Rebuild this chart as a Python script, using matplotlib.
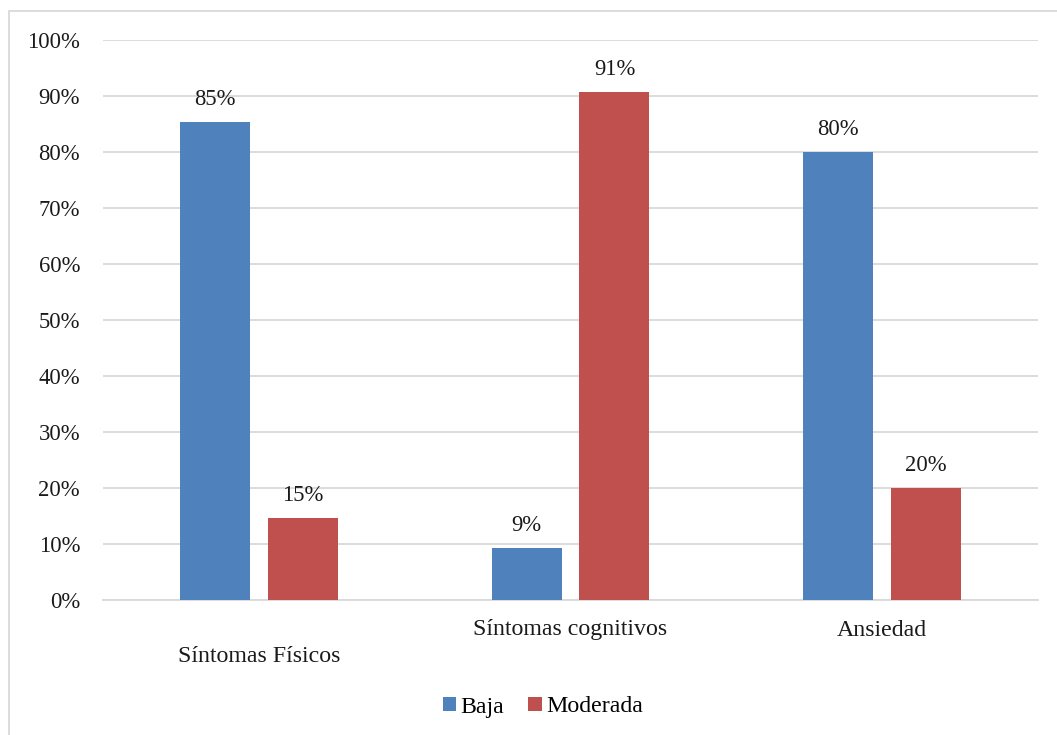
import matplotlib.pyplot as plt
from matplotlib.patches import Rectangle
import numpy as np

plt.rcParams['font.family'] = ['Liberation Serif', 'DejaVu Serif']

categorias = ['Síntomas Físicos', 'Síntomas cognitivos', 'Ansiedad']
baja = [85.3, 9.3, 80.0]
moderada = [14.7, 90.7, 20.0]
series = ['Baja', 'Moderada']

azul = '#4F81BD'
rojo = '#C0504D'
gris = '#D9D9D9'

W, H = 1057, 735
fig = plt.figure(figsize=(W / 100, H / 100), dpi=100)
ax = fig.add_axes([103 / W, 135 / H, (1038 - 103) / W, 560 / H])

x = np.arange(len(categorias))
ancho = 0.2246
off = 0.141
b1 = ax.bar(x - off, baja, ancho, color=azul, label=series[0], zorder=3)
b2 = ax.bar(x + off, moderada, ancho, color=rojo, label=series[1], zorder=3)

for barras, vals in [(b1, baja), (b2, moderada)]:
    for b, v in zip(barras, vals):
        ax.annotate(f"{round(v)}%", xy=(b.get_x() + b.get_width() / 2, v),
                    xytext=(0, 12), textcoords='offset pixels',
                    ha='center', va='bottom', fontsize=16.3, color='#1a1a1a')

ax.set_xlim(-0.5, 2.5)
ax.set_ylim(0, 100)
ax.set_yticks(np.arange(0, 101, 10))
ax.set_yticklabels([f"{t}%" for t in range(0, 101, 10)], fontsize=16.3, color='#1a1a1a')
ax.tick_params(axis='y', length=0, pad=16.5)
ax.set_xticks([])
ax.grid(axis='y', color=gris, linewidth=1.3, zorder=0)
for s in ['top', 'right', 'left']:
    ax.spines[s].set_visible(False)
ax.spines['bottom'].set_color(gris)
ax.spines['bottom'].set_linewidth(1.3)

# etiquetas de categoria escalonadas como en Excel
alturas = [657, 630, 630]
for i, (c, yy) in enumerate(zip(categorias, alturas)):
    xf = (103 + (i + 0.5) * (1038 - 103) / 3) / W
    fig.text(xf, 1 - yy / H, c, ha='center', va='center', fontsize=17.2, color='#1a1a1a')

fig.legend(handles=[b1, b2], labels=series, loc='center', bbox_to_anchor=(543 / W, 1 - 707 / H),
           ncol=2, frameon=False, fontsize=17.2, handlelength=0.55, handleheight=0.55,
           handletextpad=0.2, columnspacing=1.0)

fig.patches.append(Rectangle((9 / W, -0.1), 1.2, 1 - 11 / H + 0.1, transform=fig.transFigure,
                             fill=False, edgecolor=gris, linewidth=1.3))

fig.savefig('out.png', dpi=100)
